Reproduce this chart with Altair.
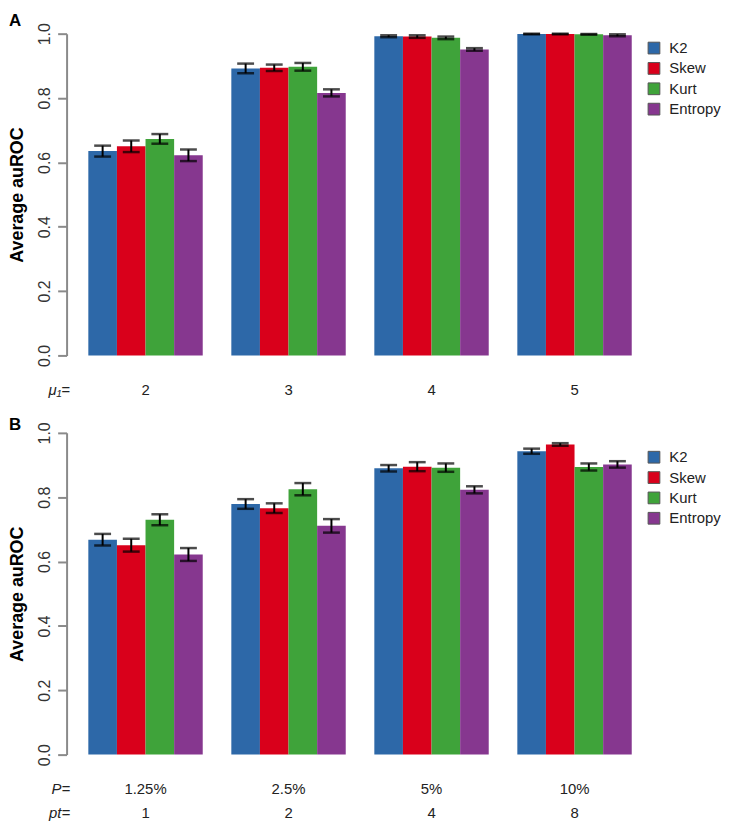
import altair as alt
import pandas as pd

series = ["K2", "Skew", "Kurt", "Entropy"]
colors = ["#2D68A8", "#D9001B", "#3FA33A", "#86378F"]

# Panel A: mu1 groups
a_groups = ["2", "3", "4", "5"]
a_vals = {
    "K2":      [0.635, 0.892, 0.992, 0.999],
    "Skew":    [0.650, 0.894, 0.991, 0.999],
    "Kurt":    [0.673, 0.897, 0.987, 0.998],
    "Entropy": [0.622, 0.816, 0.951, 0.995],
}
a_err = {
    "K2":      [0.017, 0.015, 0.003, 0.001],
    "Skew":    [0.018, 0.010, 0.004, 0.001],
    "Kurt":    [0.015, 0.012, 0.004, 0.001],
    "Entropy": [0.018, 0.011, 0.004, 0.003],
}

# Panel B: P / pt groups
b_P = ["1.25%", "2.5%", "5%", "10%"]
b_pt = ["1", "2", "4", "8"]
b_vals = {
    "K2":      [0.668, 0.779, 0.890, 0.943],
    "Skew":    [0.651, 0.766, 0.895, 0.964],
    "Kurt":    [0.730, 0.825, 0.892, 0.894],
    "Entropy": [0.622, 0.711, 0.823, 0.902],
}
b_err = {
    "K2":      [0.018, 0.015, 0.010, 0.008],
    "Skew":    [0.020, 0.015, 0.014, 0.004],
    "Kurt":    [0.017, 0.019, 0.013, 0.011],
    "Entropy": [0.020, 0.021, 0.011, 0.010],
}


def make_df(groups, vals, errs):
    rows = []
    for s in series:
        for i, g in enumerate(groups):
            v = vals[s][i]
            e = errs[s][i]
            rows.append({"group": g, "series": s, "value": v,
                         "lo": v - e, "hi": v + e})
    return pd.DataFrame(rows)


FONT = "Liberation Sans"
W, H = 591, 324


def panel(df, groups, xaxis, letter, title_offset, legend_y):
    x = alt.X("group:N", sort=groups, axis=xaxis,
              scale=alt.Scale(paddingInner=0.2, paddingOuter=0.152))
    xo = alt.XOffset("series:N", sort=series,
                     scale=alt.Scale(paddingInner=0, paddingOuter=0))
    yaxis = alt.Axis(values=[0, 0.2, 0.4, 0.6, 0.8, 1.0], format=".1f",
                     labelAngle=270, labelAlign="center", labelBaseline="bottom",
                     labelFontSize=16, labelColor="#333", labelPadding=5,
                     tickSize=9, tickWidth=2, tickColor="#8a8a8a",
                     domainColor="#8a8a8a", domainWidth=2, grid=False,
                     title="Average auROC", titleFontSize=18, titleFontWeight="bold",
                     titleColor="black", titlePadding=10)
    y = alt.Y("value:Q", scale=alt.Scale(domain=[0, 1]), axis=yaxis)
    base = alt.Chart(df)
    bars = base.mark_bar().encode(
        x=x, xOffset=xo, y=y,
        color=alt.Color("series:N", sort=series,
                        scale=alt.Scale(domain=series, range=colors),
                        legend=alt.Legend(orient="none", legendX=584, legendY=legend_y,
                                          title=None, symbolType="square",
                                          symbolSize=140, symbolStrokeColor="#555",
                                          symbolStrokeWidth=1, labelFontSize=15,
                                          labelColor="#222", rowPadding=3.5,
                                          labelOffset=8)),
    )
    rules = base.mark_rule(color="black", strokeWidth=2).encode(
        x=x, xOffset=xo, y="lo:Q", y2="hi:Q")
    cap_lo = base.mark_tick(color="black", thickness=2.5, size=17,
                            orient="horizontal").encode(x=x, xOffset=xo, y="lo:Q")
    cap_hi = base.mark_tick(color="black", thickness=2.5, size=17,
                            orient="horizontal").encode(x=x, xOffset=xo, y="hi:Q")
    return alt.layer(bars, rules, cap_lo, cap_hi).properties(
        width=W, height=H,
        title=alt.TitleParams(letter, anchor="start", frame="bounds",
                              fontSize=17, fontWeight="bold", color="black",
                              offset=title_offset),
    )


xaxis_a = alt.Axis(domain=False, ticks=False, labelAngle=0, labelPadding=27,
                   labelFontSize=15, labelColor="#222",
                   title="μ₁=", titleFontStyle="italic", titleFontWeight="normal",
                   titleFontSize=15, titleColor="#222", titleX=3, titleY=27,
                   titleAlign="right", titleBaseline="top")

b_groups = [p + "|" + t for p, t in zip(b_P, b_pt)]
xaxis_b = alt.Axis(domain=False, ticks=False, labelAngle=0, labelPadding=27,
                   labelFontSize=15, labelColor="#222",
                   labelExpr="split(datum.label, '|')", labelLineHeight=24,
                   title=["P=", "pt="], titleFontStyle="italic", titleFontWeight="normal",
                   titleFontSize=15, titleColor="#222", titleX=3, titleY=27,
                   titleAlign="right", titleBaseline="top", titleLineHeight=24)

pa = panel(make_df(a_groups, a_vals, a_err), a_groups, xaxis_a, "A", -7, 7)
pb = panel(make_df(b_groups, b_vals, b_err), b_groups, xaxis_b, "B", -12, 17)

chart = alt.vconcat(pa, pb, spacing=18).resolve_scale(
    color="independent").resolve_legend(color="independent").properties(
    padding={"left": 1, "top": 0, "right": 0, "bottom": 0}
).configure(font=FONT).configure_view(stroke=None)

chart.save("out.html", embed_options={"renderer": "svg", "actions": False})
